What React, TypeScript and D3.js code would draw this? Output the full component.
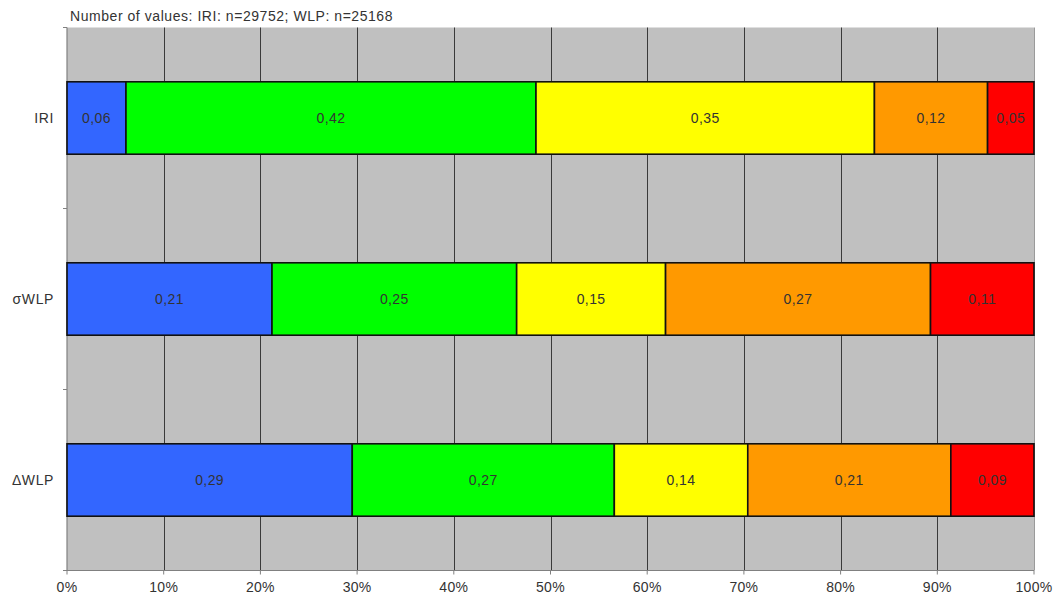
// Stacked share chart: IRI / σWLP / ΔWLP class distribution
import { useMemo } from 'react';
import * as d3 from 'd3';

// categories (top to bottom) and classes (left to right)
const categories = ['IRI', 'σWLP', 'ΔWLP'];
const classes = ['c1', 'c2', 'c3', 'c4', 'c5'];
const classColors = ['#3366FF', '#00FF00', '#FFFF00', '#FF9900', '#FF0000'];

// shares per category
const iriValues = [0.061, 0.424, 0.35, 0.117, 0.048];
const sigmaWlpValues = [0.212, 0.253, 0.154, 0.274, 0.107];
const deltaWlpValues = [0.295, 0.271, 0.138, 0.21, 0.086];

const xTicks = [0, 0.1, 0.2, 0.3, 0.4, 0.5, 0.6, 0.7, 0.8, 0.9, 1];
const title = 'Number of values: IRI: n=29752; WLP: n=25168';

const width = 1056;
const height = 596;
const marginLeft = 67;
const marginRight = 22;
const marginTop = 27.5;
const marginBottom = 25.5;

const font = '"Liberation Sans", Arial, sans-serif';

const App = () => {
  const rows = useMemo(() => {
    const values = [iriValues, sigmaWlpValues, deltaWlpValues];
    return categories.map((name, i) => {
      const obj: Record<string, number | string> = { name };
      classes.forEach((c, j) => (obj[c] = values[i][j]));
      return obj;
    });
  }, []);

  const series = d3.stack<Record<string, number | string>>().keys(classes)(rows as any);

  const x = d3.scaleLinear().domain([0, 1]).range([marginLeft, width - marginRight]);
  const y = d3
    .scaleBand()
    .domain(categories)
    .range([marginTop, height - marginBottom])
    .paddingInner(0.6)
    .paddingOuter(0.3);

  const bottom = height - marginBottom;
  const step = y.step();
  // y tick positions sit between categories
  const yTickPos = d3.range(categories.length + 1).map(i => marginTop + i * step);

  const fmt = (v: number) => d3.format('.2f')(v).replace('.', ',');

  return (
    <svg
      width={width}
      height={height}
      style={{ position: 'fixed', left: 0, top: 0, background: '#fff' }}
      fontFamily={font}
    >
      {/* plot background */}
      <rect x={x(0)} y={marginTop} width={x(1) - x(0)} height={bottom - marginTop} fill="#C0C0C0" />

      {/* vertical gridlines */}
      {xTicks.slice(1).map(t => (
        <line
          key={t}
          x1={Math.round(x(t)) + 0.5}
          x2={Math.round(x(t)) + 0.5}
          y1={marginTop}
          y2={bottom}
          stroke={t === 1 ? '#9a9a9a' : '#3a3a3a'}
          strokeWidth={1}
        />
      ))}

      {/* axes */}
      <line x1={x(0)} x2={x(0)} y1={marginTop} y2={bottom} stroke="#808080" strokeWidth={1.2} />
      <line x1={x(0)} x2={x(1)} y1={bottom} y2={bottom} stroke="#808080" strokeWidth={1.2} />
      {yTickPos.map((p, i) => (
        <line key={i} x1={x(0) - 4} x2={x(0)} y1={p} y2={p} stroke="#808080" strokeWidth={1} />
      ))}
      {xTicks.map(t => (
        <line key={t} x1={x(t)} x2={x(t)} y1={bottom} y2={bottom + 4} stroke="#808080" strokeWidth={1} />
      ))}

      {/* stacked bars */}
      {series.map((s, si) => (
        <g key={s.key} fill={classColors[si]}>
          {s.map((d, di) => (
            <rect
              key={di}
              x={x(d[0])}
              y={y(categories[di])}
              width={x(d[1]) - x(d[0])}
              height={y.bandwidth()}
              stroke="#111"
              strokeWidth={1.6}
            />
          ))}
        </g>
      ))}

      {/* value labels */}
      {series.map(s =>
        s.map((d, di) => (
          <text
            key={`${s.key}-${di}`}
            x={(x(d[0]) + x(d[1])) / 2}
            y={(y(categories[di]) as number) + y.bandwidth() / 2}
            dy="0.35em"
            textAnchor="middle"
            fontSize={14}
            letterSpacing={0.4}
            fill="#333"
          >
            {fmt(d[1] - d[0])}
          </text>
        ))
      )}

      {/* category labels */}
      {categories.map(c => (
        <text
          key={c}
          x={54}
          y={(y(c) as number) + y.bandwidth() / 2}
          dy="0.35em"
          textAnchor="end"
          fontSize={14}
          letterSpacing={0.6}
          fill="#333"
        >
          {c}
        </text>
      ))}

      {/* x tick labels */}
      {xTicks.map(t => (
        <text key={t} x={x(t)} y={592} textAnchor="middle" fontSize={14} letterSpacing={0.3} fill="#333">
          {`${Math.round(t * 100)}%`}
        </text>
      ))}

      {/* title */}
      <text x={70} y={21} fontSize={14} fill="#333" letterSpacing={0.55}>
        {title}
      </text>
    </svg>
  );
};

export default App;
